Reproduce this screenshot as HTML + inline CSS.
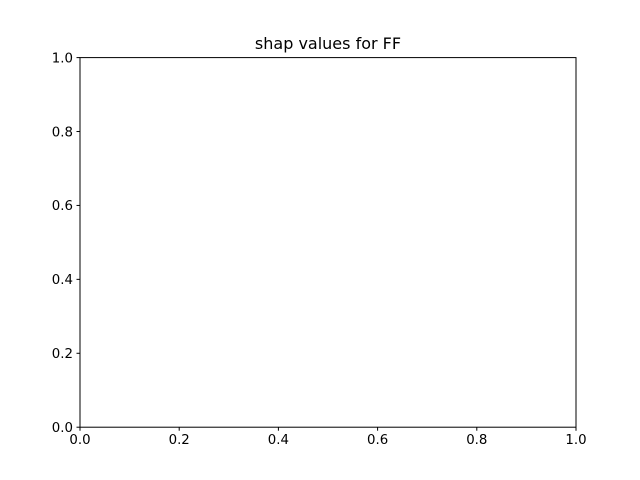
<!DOCTYPE html>
<html>
<head>
<meta charset="utf-8">
<style>
html,body{margin:0;padding:0;background:#fff;}
svg{display:block;font-family:"DejaVu Sans","Liberation Sans",sans-serif;}
</style>
</head>
<body>
<svg id="chart" width="640" height="480" viewBox="0 0 640 480">
  <rect x="0" y="0" width="640" height="480" fill="#fff"/>
  <text x="328" y="49" text-anchor="middle" font-size="16" fill="#000">shap values for FF</text>
  <g id="xticks"></g>
  <g id="yticks"></g>
  <rect x="80" y="57.6" width="496" height="369.6" fill="none" stroke="#000" stroke-width="1"/>
</svg>
<script>
const xTickValues = [0.0, 0.2, 0.4, 0.6, 0.8, 1.0];
const yTickValues = [0.0, 0.2, 0.4, 0.6, 0.8, 1.0];
const xDomain = [0, 1];
const yDomain = [0, 1];

const L = 80, R = 576, T = 57.6, B = 427.2;
const NS = "http://www.w3.org/2000/svg";
function xScale(v){ return L + (v - xDomain[0]) / (xDomain[1] - xDomain[0]) * (R - L); }
function yScale(v){ return B - (v - yDomain[0]) / (yDomain[1] - yDomain[0]) * (B - T); }

const xg = document.getElementById('xticks');
xTickValues.forEach(v => {
  const x = xScale(v);
  const ln = document.createElementNS(NS, 'line');
  ln.setAttribute('x1', x); ln.setAttribute('x2', x);
  ln.setAttribute('y1', B); ln.setAttribute('y2', B + 3.5);
  ln.setAttribute('stroke', '#000');
  
  
  xg.appendChild(ln);
  const t = document.createElementNS(NS, 'text');
  t.setAttribute('x', x); t.setAttribute('y', B + 17);
  t.setAttribute('text-anchor', 'middle');
  t.setAttribute('font-size', '13.33');
  t.textContent = v.toFixed(1);
  
  
  xg.appendChild(t);
});

const yg = document.getElementById('yticks');
yTickValues.forEach(v => {
  const y = yScale(v);
  const ln = document.createElementNS(NS, 'line');
  ln.setAttribute('x1', L - 3.5); ln.setAttribute('x2', L);
  ln.setAttribute('y1', y); ln.setAttribute('y2', y);
  ln.setAttribute('stroke', '#000');
  
  
  yg.appendChild(ln);
  const t = document.createElementNS(NS, 'text');
  t.setAttribute('x', L - 7); t.setAttribute('y', y + 4.8);
  t.setAttribute('text-anchor', 'end');
  t.setAttribute('font-size', '13.33');
  t.textContent = v.toFixed(1);
  
  
  yg.appendChild(t);
});
</script>
</body>
</html>
